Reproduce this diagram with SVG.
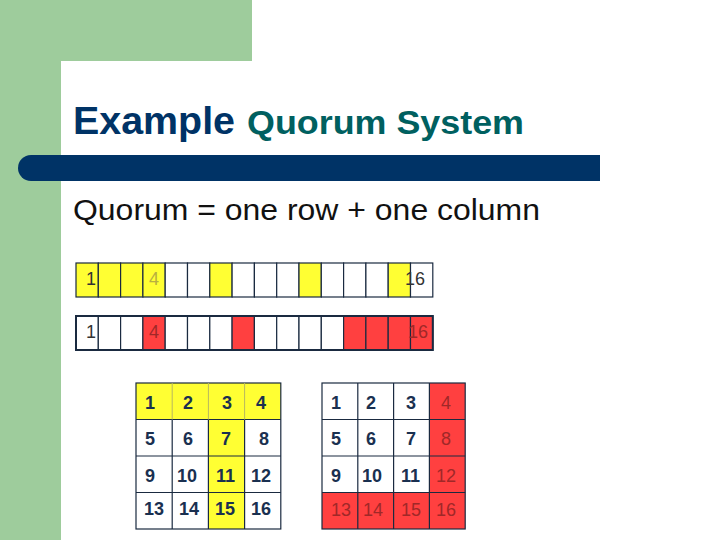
<svg xmlns="http://www.w3.org/2000/svg" width="720" height="540" viewBox="0 0 720 540">
<style>
.c{stroke:#1a2a40;stroke-width:1.2}
.w{fill:#ffffff}
.y{fill:#ffff33}
.r{fill:#ff4040}
.t{font-family:"Liberation Sans",Arial,sans-serif}
.st{font-size:18px;fill:#333333}
.g{font-size:18px;font-weight:bold;fill:#1a3050}
.gr{font-size:18px;fill:#a02828}
</style>
<rect x="0" y="0" width="720" height="540" fill="#ffffff"/>
<rect x="0" y="0" width="252" height="61" fill="#9ecc9c"/>
<rect x="0" y="0" width="61" height="540" fill="#9ecc9c"/>
<path d="M61,540 V81 A20,20 0 0 1 81,61 H252 V0 H720 V540 Z" fill="#ffffff"/>
<path d="M31,155 H600 V181 H31 A13,13 0 0 1 31,155 Z" fill="#003366"/>
<g id="title">
<text class="t" x="73" y="134" font-size="39" font-weight="bold" fill="#003366" textLength="162" lengthAdjust="spacingAndGlyphs">Example</text>
<text class="t" x="247" y="134" font-size="34" font-weight="bold" fill="#006060" textLength="277" lengthAdjust="spacingAndGlyphs">Quorum System</text>
</g>
<text class="t" x="73" y="220" font-size="30" fill="#111111" textLength="467" lengthAdjust="spacingAndGlyphs">Quorum = one row + one column</text>
<g id="strip1">
<rect class="c y" x="76" y="263" width="22.3" height="34"/>
<rect class="c y" x="98.3" y="263" width="22.3" height="34"/>
<rect class="c y" x="120.6" y="263" width="22.3" height="34"/>
<rect class="c y" x="142.9" y="263" width="22.3" height="34"/>
<rect class="c w" x="165.2" y="263" width="22.3" height="34"/>
<rect class="c w" x="187.5" y="263" width="22.3" height="34"/>
<rect class="c y" x="209.8" y="263" width="22.3" height="34"/>
<rect class="c w" x="232.1" y="263" width="22.3" height="34"/>
<rect class="c w" x="254.4" y="263" width="22.3" height="34"/>
<rect class="c w" x="276.7" y="263" width="22.3" height="34"/>
<rect class="c y" x="299" y="263" width="22.3" height="34"/>
<rect class="c w" x="321.3" y="263" width="22.3" height="34"/>
<rect class="c w" x="343.6" y="263" width="22.3" height="34"/>
<rect class="c w" x="365.9" y="263" width="22.3" height="34"/>
<rect class="c y" x="388.2" y="263" width="22.3" height="34"/>
<rect class="c w" x="410.5" y="263" width="22.3" height="34"/>
<text class="t st" x="86" y="285">1</text>
<text class="t st" x="149" y="285" style="fill:#b8b040">4</text>
<text class="t st" x="405" y="285">16</text>
</g>
<g id="strip2">
<rect class="c w" x="76" y="316" width="22.3" height="34"/>
<rect class="c w" x="98.3" y="316" width="22.3" height="34"/>
<rect class="c w" x="120.6" y="316" width="22.3" height="34"/>
<rect class="c r" x="142.9" y="316" width="22.3" height="34"/>
<rect class="c w" x="165.2" y="316" width="22.3" height="34"/>
<rect class="c w" x="187.5" y="316" width="22.3" height="34"/>
<rect class="c w" x="209.8" y="316" width="22.3" height="34"/>
<rect class="c r" x="232.1" y="316" width="22.3" height="34"/>
<rect class="c w" x="254.4" y="316" width="22.3" height="34"/>
<rect class="c w" x="276.7" y="316" width="22.3" height="34"/>
<rect class="c w" x="299" y="316" width="22.3" height="34"/>
<rect class="c w" x="321.3" y="316" width="22.3" height="34"/>
<rect class="c r" x="343.6" y="316" width="22.3" height="34"/>
<rect class="c r" x="365.9" y="316" width="22.3" height="34"/>
<rect class="c r" x="388.2" y="316" width="22.3" height="34"/>
<rect class="c r" x="410.5" y="316" width="22.3" height="34"/>
<rect x="76" y="316" width="356.8" height="34" fill="none" stroke="#1a2a40" stroke-width="2"/>
<text class="t st" x="86" y="338">1</text>
<text class="t gr" x="149" y="338">4</text>
<text class="t gr" x="408" y="338">16</text>
</g>
<g id="grid1">
<rect class="y" x="136" y="383" width="144.8" height="36.5"/>
<rect class="y" x="208.4" y="419.5" width="36.2" height="109.5"/>
<g stroke="#1a2a40" stroke-width="1.2" fill="none">
<rect x="136" y="383" width="144.8" height="146"/>
<line x1="136" y1="419.5" x2="280.8" y2="419.5"/>
<line x1="136" y1="456" x2="280.8" y2="456"/>
<line x1="136" y1="492.5" x2="280.8" y2="492.5"/>
<line x1="172.2" y1="419.5" x2="172.2" y2="529"/>
<line x1="208.4" y1="419.5" x2="208.4" y2="529"/>
<line x1="244.6" y1="419.5" x2="244.6" y2="529"/>
</g>
<g stroke="#b8b860" stroke-width="1">
<line x1="172.2" y1="383" x2="172.2" y2="419.5"/>
<line x1="208.4" y1="383" x2="208.4" y2="419.5"/>
<line x1="244.6" y1="383" x2="244.6" y2="419.5"/>
</g>
<text class="t g" x="145" y="409">1</text>
<text class="t g" x="183" y="409">2</text>
<text class="t g" x="222" y="409">3</text>
<text class="t g" x="256" y="409">4</text>
<text class="t g" x="145" y="445">5</text>
<text class="t g" x="183" y="445">6</text>
<text class="t g" x="221" y="445">7</text>
<text class="t g" x="259" y="445">8</text>
<text class="t g" x="145" y="482">9</text>
<text class="t g" x="177" y="482">10</text>
<text class="t g" x="216" y="482">11</text>
<text class="t g" x="251" y="482">12</text>
<text class="t g" x="144" y="515">13</text>
<text class="t g" x="179" y="515">14</text>
<text class="t g" x="215" y="515">15</text>
<text class="t g" x="251" y="515">16</text>
</g>
<g id="grid2">
<rect class="r" x="429.4" y="383" width="35.8" height="109.5"/>
<rect class="r" x="322" y="492.5" width="143.2" height="36.5"/>
<g stroke="#1a2a40" stroke-width="1.2" fill="none">
<rect x="322" y="383" width="143.2" height="146"/>
<line x1="322" y1="419.5" x2="465.2" y2="419.5"/>
<line x1="322" y1="456" x2="465.2" y2="456"/>
<line x1="322" y1="492.5" x2="465.2" y2="492.5"/>
<line x1="357.8" y1="383" x2="357.8" y2="529"/>
<line x1="393.6" y1="383" x2="393.6" y2="529"/>
<line x1="429.4" y1="383" x2="429.4" y2="529"/>
</g>
<text class="t g" x="331" y="409">1</text>
<text class="t g" x="366" y="409">2</text>
<text class="t g" x="406" y="409">3</text>
<text class="t gr" x="441" y="409">4</text>
<text class="t g" x="331" y="445">5</text>
<text class="t g" x="366" y="445">6</text>
<text class="t g" x="406" y="445">7</text>
<text class="t gr" x="441" y="445">8</text>
<text class="t g" x="331" y="482">9</text>
<text class="t g" x="362" y="482">10</text>
<text class="t g" x="401" y="482">11</text>
<text class="t gr" x="436" y="482">12</text>
<text class="t gr" x="331" y="516">13</text>
<text class="t gr" x="363" y="516">14</text>
<text class="t gr" x="401" y="516">15</text>
<text class="t gr" x="436" y="516">16</text>
</g>
<g id="connectors"/>
</svg>
